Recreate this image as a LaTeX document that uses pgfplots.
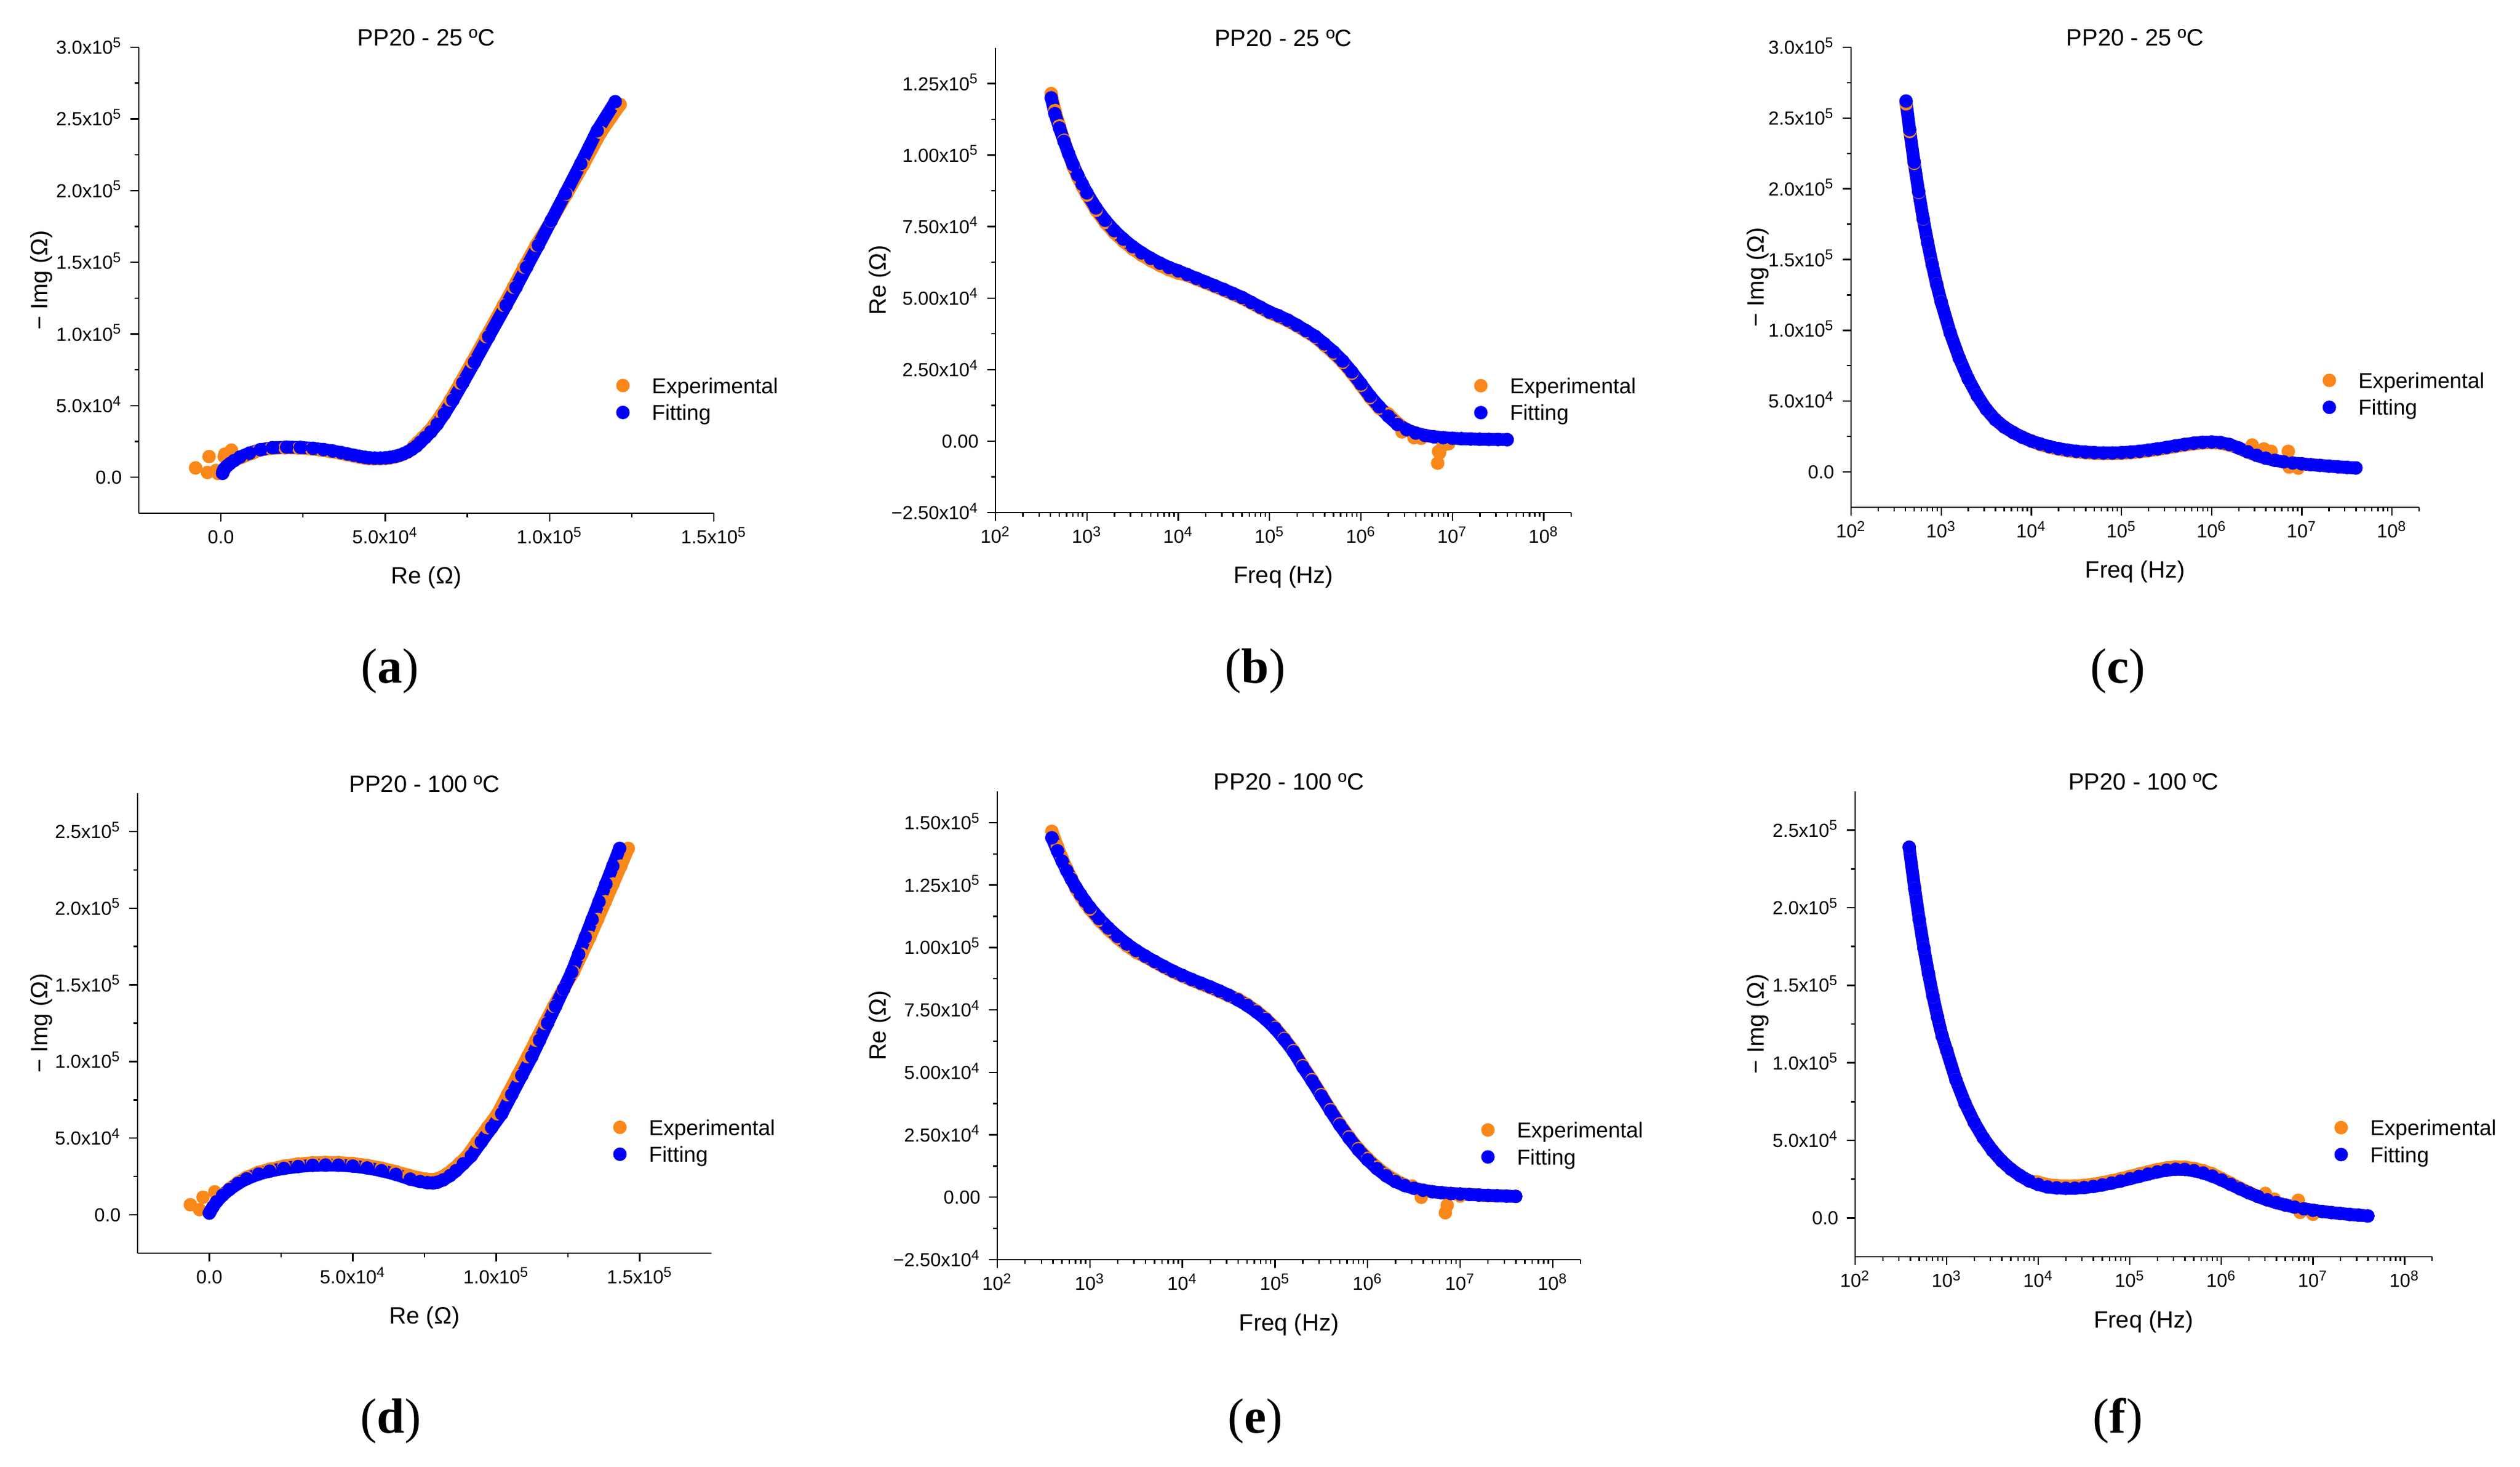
\documentclass[border=0pt]{standalone}
\usepackage{pgfplots}
\pgfplotsset{compat=1.18}
\usepackage{pgfplotstable}
\usepackage{fontspec}
\setmainfont{Liberation Sans}
\newfontfamily\subserif{Liberation Serif}
\definecolor{exporange}{RGB}{250,135,25}
\definecolor{fitblue}{RGB}{0,0,250}

% ---------- PP20 - 25 C : f, Re(fit), -Im(fit), Re(exp), -Im(exp)
\pgfplotstableread{
f ReF ImF ReE ImE
407.4 120000 262000 121500 260000
446.7 114500 241800 115600 240500
501.2 109500 218800 110300 218000
562.3 104800 197900 105200 197500
631.0 100500 179000 100500 178800
707.9 96600 161900 95900 161900
794.3 93000 146500 92200 146600
891.3 89800 132500 89000 132600
1000 86800 120000 86000 120100
1259 81500 98200 80700 98200
1585 77200 80400 76400 80400
1995 73600 65800 72800 65800
2512 70600 53900 69800 53900
3162 68000 44300 67200 44300
3981 65800 37000 65000 37000
5012 63900 31700 63100 31700
6310 62200 27800 61400 27800
7943 60700 24500 59900 24500
1.0e4 59500 21800 58700 21800
1.259e4 58200 19700 57900 19200
1.585e4 56900 17900 56600 17400
1.995e4 55600 16500 55300 16000
2.512e4 54300 15400 54000 14900
3.162e4 53000 14600 52700 14100
3.981e4 51600 14000 51300 13500
5.012e4 50200 13600 49900 13100
6.310e4 48500 13400 48200 12900
7.943e4 46800 13400 46500 12900
1.0e5 45100 13600 44800 13100
1.259e5 43800 14000 43500 13500
1.585e5 42300 14600 42000 14100
1.995e5 40500 15400 40200 14900
2.512e5 38600 16300 38300 15800
3.162e5 36600 17300 36300 16800
3.981e5 34000 18400 33500 17900
5.012e5 31200 19400 30700 18900
6.310e5 28000 20300 27500 19800
7.943e5 24200 20900 23700 20400
1.0e6 20000 21100 19500 20600
1.259e6 15700 20700 15200 20200
1.585e6 12000 19300 11500 18800
1.995e6 8700 16900 9500 16800
2.512e6 5800 14200 6300 14000
3.162e6 4000 11700 4000 11700
3.981e6 2800 9700 2800 9700
5.012e6 2000 8200 2000 8200
6.310e6 1500 7100 1500 7100
7.943e6 1200 6300 1200 6300
1.0e7 1000 5700 1000 5700
1.259e7 850 5100 850 5100
1.585e7 750 4600 750 4600
1.995e7 650 4100 650 4100
2.512e7 600 3600 600 3600
3.162e7 550 3200 550 3200
3.981e7 500 2800 500 2800
}\tabA

\pgfplotstableread{
f Re Im
2.818e6 3200 19000
3.802e6 1200 16200
4.571e6 1000 14500
6.918e6 -7700 6600
7.079e6 -3600 14500
7.244e6 -4100 3400
7.943e6 -1500 4800
9.120e6 -900 2700
}\noiseA

% ---------- PP20 - 100 C (Bode data)
\pgfplotstableread{
f ReF ImF ReE ImE
389.0 143900 239000 146500 239000
446.7 138700 212300 140500 212300
501.2 134600 192200 135800 192200
562.3 130800 174100 131600 174100
631.0 127300 157700 127800 157700
707.9 124100 142800 123400 142800
794.3 121200 129400 120500 129400
891.3 118500 117200 117800 117200
1000 116000 108000 115300 108000
1259 111600 89000 110900 89000
1585 107800 73900 107100 73900
1995 104400 61600 103700 61600
2512 101400 51600 100700 51600
3162 98800 43400 98100 43400
3981 96500 36800 96200 36800
5012 94400 31500 94100 31500
6310 92400 27300 92100 27300
7943 90500 23900 90200 23900
1.0e4 88800 21600 88500 23100
1.259e4 87200 20000 86900 21500
1.585e4 85700 19400 85400 20900
1.995e4 84200 19100 83900 20600
2.512e4 82600 19200 82300 20700
3.162e4 80900 19600 80600 21100
3.981e4 79000 20300 79400 21800
5.012e4 76800 21300 77200 22800
6.310e4 74200 22500 74600 24000
7.943e4 71200 23800 71600 25300
1.0e5 67600 25300 68000 26800
1.259e5 63200 26800 63600 28300
1.585e5 58300 28300 58700 29800
1.995e5 52200 29700 52700 31200
2.512e5 46600 30800 47100 32300
3.162e5 40600 31400 41100 32900
3.981e5 34600 31300 35100 32800
5.012e5 28900 30500 29400 32000
6.310e5 23700 29000 24200 30500
7.943e5 19000 27000 19500 28500
1.0e6 15000 24500 15600 25500
1.259e6 11500 21700 12100 22500
1.585e6 8600 18900 9200 19400
1.995e6 6300 16200 6900 16500
2.512e6 4700 13800 5000 13800
3.162e6 3600 11700 3600 11700
3.981e6 2800 9900 2800 9900
5.012e6 2200 8300 2200 8300
6.310e6 1800 7000 1800 7000
7.943e6 1500 5900 1500 5900
1.0e7 1300 5000 1300 5000
1.259e7 1100 4200 1100 4200
1.585e7 900 3500 900 3500
1.995e7 750 2900 750 2900
2.512e7 600 2300 600 2300
3.162e7 450 1800 450 1800
3.981e7 350 1300 350 1300
}\tabB

\pgfplotstableread{
f Re Im
3.020e6 4500 15800
3.802e6 0 12100
6.918e6 -6200 11400
7.244e6 -3200 3600
1.0e7 500 2400
}\noiseB

% ---------- PP20 - 100 C (Nyquist data)
\pgfplotstableread{
ReF ImF ReE ImE
143000 239000 146000 239000
140600 227400 143400 227400
138200 215800 140700 215800
135800 204200 138000 204200
133400 192600 135300 192600
131000 181000 132600 181000
128700 169900 129800 169900
126300 158300 126900 158300
123500 147200 123300 147200
120700 136100 120000 136100
117900 125000 116900 125000
115100 113900 113800 113900
112400 103200 110900 103200
108900 90800 107400 90800
105400 78400 103900 78400
101900 65900 100400 65900
98400 56900 96900 56900
94800 47600 93300 47600
91300 38500 89900 38500
88500 33300 87200 33600
86000 28800 84800 29500
83900 25600 82800 26700
81500 22800 80800 24500
79500 21300 78800 23200
78000 20800 77500 23000
76000 21000 75500 23300
73500 21700 73000 24200
70000 23300 69500 25800
65000 26400 65000 28200
60000 28800 60000 30500
55000 30600 55000 32300
50000 31800 50000 33500
45000 32400 45000 34100
40500 32500 40500 34200
36000 32300 36000 34000
31000 31500 31000 33200
26000 30300 26000 31800
21000 28500 21000 29800
17200 26600 17200 27800
13000 23500 13000 24500
10000 20500 10000 21200
7000 16500 7000 17000
4600 12700 4600 13000
2500 8500 2500 8800
1200 5000 1200 5200
400 2500 400 2600
0 1200 0 1200
}\nyqB

\pgfplotstableread{
Re Im
-6600 6600
-2200 11500
-3400 3400
1900 15000
}\nyqnoiseB

\pgfplotsset{
  eis/.style={
    scale only axis,
    scaled x ticks=false, scaled y ticks=false,
    axis x line*=bottom, axis y line*=left,
    axis line style={line width=0.6pt, -},
    every tick/.style={black, line width=0.6pt},
    tick align=outside,
    major tick length=3.6pt,
    minor tick length=1.8pt,
    tick label style={font=\fontsize{8}{9.6}\selectfont},
    xticklabel style={text height=5.75pt, text depth=0pt, anchor=north},
    yticklabel style={text height=5.75pt, text depth=0pt, anchor=east},
    label style={font=\fontsize{10}{12}\selectfont},
    title style={font=\fontsize{10}{12}\selectfont, at={(axis description cs:0.5,1)}, anchor=base, yshift=-5.5pt},
    xlabel style={at={(axis description cs:0.5,0)}, anchor=base, yshift=-30pt},
    ylabel style={anchor=base},
    legend style={draw=none, fill=none, anchor=north west, inner sep=0pt, outer sep=0pt,
      row sep=2.9pt, column sep=9.5pt, font=\fontsize{9.15}{11}\selectfont,
      nodes={inner sep=0pt, text height=6.6pt, text depth=1.9pt, anchor=base west}},
    legend cell align=left,
  },
  expser/.style={exporange, line width=5.4pt, line cap=round, line join=round, mark=*, mark size=2.8pt, mark options={solid, line width=0.1pt}, forget plot},
  fitser/.style={fitblue, line width=5.4pt, line cap=round, line join=round, mark=*, mark size=2.8pt, mark options={solid, line width=0.1pt}, forget plot},
  noiseser/.style={exporange, only marks, mark=*, mark size=2.8pt, mark options={solid, line width=0.1pt}, forget plot},
  legexp/.style={only marks, exporange, mark=*, mark size=2.8pt, mark options={solid, line width=0.1pt, yshift=3.3pt}},
  legfit/.style={only marks, fitblue, mark=*, mark size=2.8pt, mark options={solid, line width=0.1pt, yshift=3.3pt}},
  logticks/.style={xmin=100, xmax=2e8,
    xtick={1e2,1e3,1e4,1e5,1e6,1e7,1e8},
    xticklabels={10\textsuperscript{2},10\textsuperscript{3},10\textsuperscript{4},10\textsuperscript{5},10\textsuperscript{6},10\textsuperscript{7},10\textsuperscript{8}},
    minor xtick={2e2,3e2,4e2,5e2,6e2,7e2,8e2,9e2,2e3,3e3,4e3,5e3,6e3,7e3,8e3,9e3,2e4,3e4,4e4,5e4,6e4,7e4,8e4,9e4,2e5,3e5,4e5,5e5,6e5,7e5,8e5,9e5,2e6,3e6,4e6,5e6,6e6,7e6,8e6,9e6,2e7,3e7,4e7,5e7,6e7,7e7,8e7,9e7,2e8},
    xlabel={Freq (Hz)}},
  nyqx/.style={xmin=-25000, xtick={0,50000,100000,150000},
    xticklabels={0.0,5.0x10\textsuperscript{4},1.0x10\textsuperscript{5},1.5x10\textsuperscript{5}},
    minor x tick num=1, xlabel={Re (Ω)}},
  imy/.style={ymin=-25000, minor y tick num=1, ylabel={− Img (Ω)}},
}

\newcommand{\eislegend}{%
  \addlegendimage{legexp}\addlegendentry{Experimental}%
  \addlegendimage{legfit}\addlegendentry{Fitting}}

\begin{document}
\begin{tikzpicture}
\useasboundingbox (0,0) rectangle (1067pt,620.75pt);

% (a)
\begin{axis}[eis, nyqx, imy, at={(58.75pt,403.5pt)}, anchor=south west, width=243.5pt, height=197.25pt,
  title={PP20 - 25 ºC}, xmax=150000, ymax=300000,
  ytick={0,50000,100000,150000,200000,250000,300000},
  yticklabels={0.0,5.0x10\textsuperscript{4},1.0x10\textsuperscript{5},1.5x10\textsuperscript{5},2.0x10\textsuperscript{5},2.5x10\textsuperscript{5},3.0x10\textsuperscript{5}},
  ylabel style={at={(axis description cs:-0.159,0.5)}},
  legend style={at={(axis description cs:0.8304,0.2907)}}]
\eislegend
\addplot[expser] table[x=ReE,y=ImE]{\tabA};
\addplot[noiseser] table[x=Re,y=Im]{\noiseA};
\addplot[fitser] table[x=ReF,y=ImF]{\tabA};
\end{axis}

% (b)
\begin{axis}[xmode=log, eis, logticks, at={(421.5pt,403.75pt)}, anchor=south west, width=243.75pt, height=196.75pt,
  title={PP20 - 25 ºC}, ymin=-25000, ymax=137500, minor y tick num=1, ylabel={Re (Ω)},
  ytick={-25000,0,25000,50000,75000,100000,125000},
  yticklabels={−2.50x10\textsuperscript{4},0.00,2.50x10\textsuperscript{4},5.00x10\textsuperscript{4},7.50x10\textsuperscript{4},1.00x10\textsuperscript{5},1.25x10\textsuperscript{5}},
  ylabel style={at={(axis description cs:-0.1908,0.5)}},
  legend style={at={(axis description cs:0.8316,0.2898)}}]
\eislegend
\addplot[expser] table[x=f,y=ReE]{\tabA};
\addplot[noiseser] table[x=f,y=Re]{\noiseA};
\addplot[fitser] table[x=f,y=ReF]{\tabA};
\end{axis}

% (c)
\begin{axis}[xmode=log, eis, logticks, imy, at={(783.75pt,406pt)}, anchor=south west, width=240.5pt, height=194.75pt,
  title={PP20 - 25 ºC}, ymax=300000,
  ytick={0,50000,100000,150000,200000,250000,300000},
  yticklabels={0.0,5.0x10\textsuperscript{4},1.0x10\textsuperscript{5},1.5x10\textsuperscript{5},2.0x10\textsuperscript{5},2.5x10\textsuperscript{5},3.0x10\textsuperscript{5}},
  ylabel style={at={(axis description cs:-0.1538,0.5)}},
  legend style={at={(axis description cs:0.8304,0.2928)}}]
\eislegend
\addplot[expser] table[x=f,y=ImE]{\tabA};
\addplot[noiseser] table[x=f,y=Im]{\noiseA};
\addplot[fitser] table[x=f,y=ImF]{\tabA};
\end{axis}

% (d)
\begin{axis}[eis, nyqx, imy, at={(58.25pt,90.25pt)}, anchor=south west, width=243pt, height=194.75pt,
  title={PP20 - 100 ºC}, xmax=175000, ymax=275000,
  ytick={0,50000,100000,150000,200000,250000},
  yticklabels={0.0,5.0x10\textsuperscript{4},1.0x10\textsuperscript{5},1.5x10\textsuperscript{5},2.0x10\textsuperscript{5},2.5x10\textsuperscript{5}},
  ylabel style={at={(axis description cs:-0.1574,0.5)}},
  legend style={at={(axis description cs:0.829,0.2906)}}]
\eislegend
\addplot[expser] table[x=ReE,y=ImE]{\nyqB};
\addplot[noiseser] table[x=Re,y=Im]{\nyqnoiseB};
\addplot[fitser] table[x=ReF,y=ImF]{\nyqB};
\end{axis}

% (e)
\begin{axis}[xmode=log, eis, logticks, at={(422.25pt,87.5pt)}, anchor=south west, width=247pt, height=198.25pt,
  title={PP20 - 100 ºC}, ymin=-25000, ymax=162500, minor y tick num=1, ylabel={Re (Ω)},
  ytick={-25000,0,25000,50000,75000,100000,125000,150000},
  yticklabels={−2.50x10\textsuperscript{4},0.00,2.50x10\textsuperscript{4},5.00x10\textsuperscript{4},7.50x10\textsuperscript{4},1.00x10\textsuperscript{5},1.25x10\textsuperscript{5},1.50x10\textsuperscript{5}},
  ylabel style={at={(axis description cs:-0.1913,0.5)}},
  legend style={at={(axis description cs:0.8298,0.2936)}}]
\eislegend
\addplot[expser] table[x=f,y=ReE]{\tabB};
\addplot[noiseser] table[x=f,y=Re]{\noiseB};
\addplot[fitser] table[x=f,y=ReF]{\tabB};
\end{axis}

% (f)
\begin{axis}[xmode=log, eis, logticks, imy, at={(785.5pt,88.75pt)}, anchor=south west, width=244.25pt, height=197pt,
  title={PP20 - 100 ºC}, ymax=275000,
  ytick={0,50000,100000,150000,200000,250000},
  yticklabels={0.0,5.0x10\textsuperscript{4},1.0x10\textsuperscript{5},1.5x10\textsuperscript{5},2.0x10\textsuperscript{5},2.5x10\textsuperscript{5}},
  ylabel style={at={(axis description cs:-0.1586,0.5)}},
  legend style={at={(axis description cs:0.8309,0.2942)}}]
\eislegend
\addplot[expser] table[x=f,y=ImE]{\tabB};
\addplot[noiseser] table[x=f,y=Im]{\noiseB};
\addplot[fitser] table[x=f,y=ImF]{\tabB};
\end{axis}

% subfigure labels
\begin{scope}[every node/.style={font=\subserif\fontsize{21}{25}\selectfont, anchor=base, inner sep=0pt}]
\node at (165pt,331.5pt) {(\textbf{a})};
\node at (531.5pt,331.5pt) {(\textbf{b})};
\node at (896.75pt,331.5pt) {(\textbf{c})};
\node at (165.5pt,14.25pt) {(\textbf{d})};
\node at (531.5pt,14.25pt) {(\textbf{e})};
\node at (896.75pt,14.25pt) {(\textbf{f})};
\end{scope}
\end{tikzpicture}
\end{document}
